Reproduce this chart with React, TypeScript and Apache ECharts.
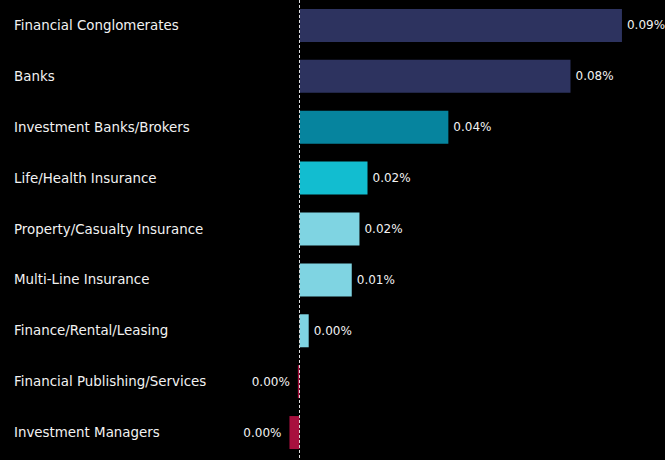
import React, { useEffect, useRef } from "react";
import * as echarts from "echarts";

const categories = [
  "Financial Conglomerates",
  "Banks",
  "Investment Banks/Brokers",
  "Life/Health Insurance",
  "Property/Casualty Insurance",
  "Multi-Line Insurance",
  "Finance/Rental/Leasing",
  "Financial Publishing/Services",
  "Investment Managers",
];

const values = [0.0921, 0.0774, 0.0425, 0.0194, 0.0171, 0.0149, 0.0026, -0.0005, -0.0029];

const barColors = [
  "#2d335f",
  "#2d335f",
  "#06849e",
  "#12bdd0",
  "#7fd4e2",
  "#7fd4e2",
  "#7fd4e2",
  "#a8103e",
  "#a8103e",
];

const fmt = (v: number) => {
  let s = v.toFixed(2);
  if (parseFloat(s) === 0) s = "0.00";
  return s + "%";
};

export default function App() {
  const ref = useRef<HTMLDivElement>(null);
  useEffect(() => {
    document.body.style.margin = "0";
    document.body.style.background = "#000";
    const chart = echarts.init(ref.current!, null, { renderer: "svg" });
    chart.setOption({
      animation: false,
      backgroundColor: "#000000",
      grid: { left: 0, right: 0, top: -2, bottom: 2 },
      xAxis: {
        type: "value",
        min: -0.0856,
        max: 0.1044,
        show: false,
      },
      yAxis: {
        type: "category",
        data: categories,
        inverse: true,
        axisLine: { show: false },
        axisTick: { show: false },
        splitLine: { show: false },
        axisLabel: {
          inside: true,
          margin: 14,
          align: "left",
          color: "#f2f2f2",
          fontFamily: "DejaVu Sans",
          fontSize: 13.4,
        },
      },
      series: [
        {
          type: "bar",
          barWidth: 33,
          data: values.map((v, i) => ({
            value: v,
            itemStyle: { color: barColors[i] },
            label: {
              show: true,
              position: v >= 0 ? "right" : "left",
              distance: v >= 0 ? 5 : 8,
              formatter: () => fmt(v),
              color: "#f2f2f2",
              fontFamily: "DejaVu Sans",
              fontSize: 12,
            },
          })),
          markLine: {
            silent: true,
            symbol: "none",
            label: { show: false },
            lineStyle: { color: "#dddddd", type: [3, 2], width: 1 },
            data: [{ xAxis: 0 }],
          },
        },
      ],
    });
    return () => chart.dispose();
  }, []);
  return <div ref={ref} style={{ width: 665, height: 460 }} />;
}
